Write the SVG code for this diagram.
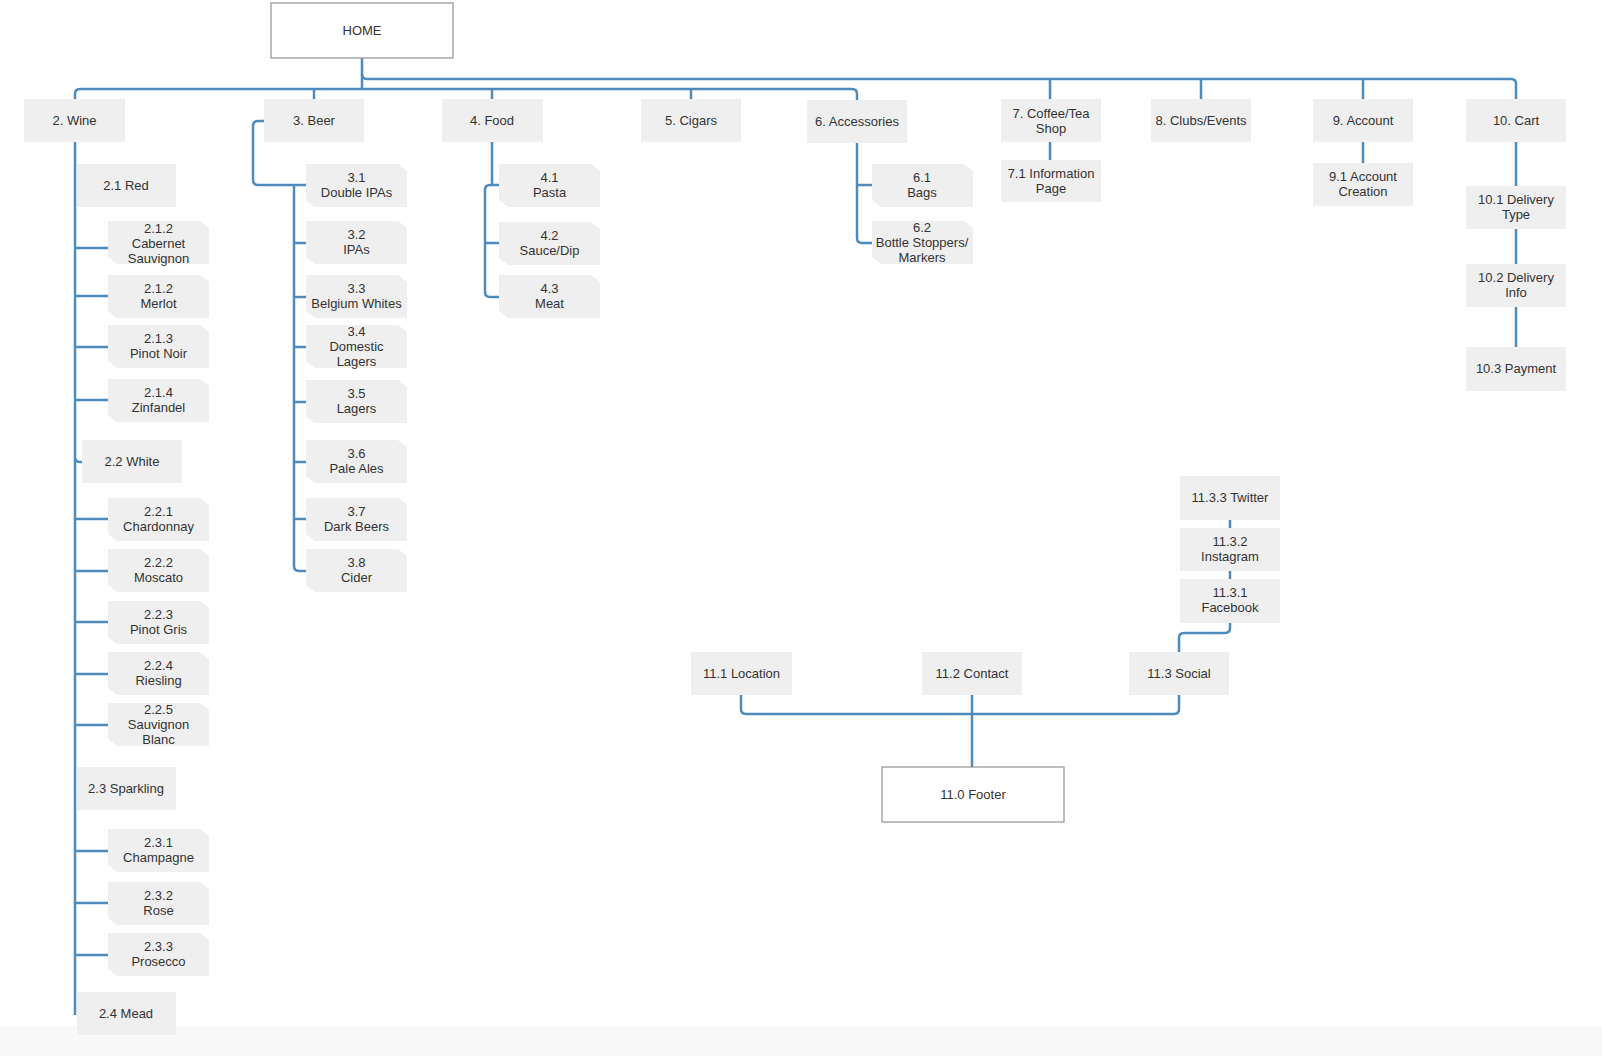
<svg xmlns="http://www.w3.org/2000/svg" xmlns:xlink="http://www.w3.org/1999/xlink" width="1602" height="1056" viewBox="0 0 1602 1056">
<style>
.box{fill:#efefef}
.frame{fill:#fff;stroke:#9a9a9a;stroke-width:1.3}
.lbl{font-family:"Liberation Sans",Arial,sans-serif;font-size:13px;fill:#333;text-anchor:middle}
.conn{fill:none;stroke:#4d8bbd;stroke-width:2.5;stroke-linejoin:round;stroke-linecap:butt}
</style>
<defs>
<polygon id="card" class="box" points="0,0 92,0 101,7 101,43 9,43 0,36"/>
</defs>
<rect x="0" y="0" width="1602" height="1056" fill="#fff"/>
<rect x="0" y="1026" width="1602" height="30" fill="#f9f9f9"/>

<g id="connectors" class="conn">
<path d="M362,58 V89 M362,89 H80 Q75,89 75,94 V99 M362,89 H852 Q857,89 857,94 V100 M314,89 V99 M492,89 V99 M691,89 V99"/>
<path d="M362,74 Q362,79 367,79 H1511 Q1516,79 1516,84 V99 M1050,79 V99 M1201,79 V99 M1363,79 V99"/>
<path d="M75,142 V1015 M75,457 Q75,462 80,462 H82 M75,248 H108 M75,296 H108 M75,347 H108 M75,400 H108 M75,519 H108 M75,571 H108 M75,622 H108 M75,674 H108 M75,725 H108 M75,851 H108 M75,903 H108 M75,955 H108"/>
<path d="M264,121 H258 Q253,121 253,126 V180 Q253,185 258,185 H306 M294,185 V566 Q294,571 299,571 H306 M294,243 H306 M294,297 H306 M294,347 H306 M294,402 H306 M294,462 H306 M294,519 H306"/>
<path d="M492,142 V185 M499,185 H490 Q485,185 485,190 V292 Q485,297 490,297 H499 M485,243 H499"/>
<path d="M857,143 V238 Q857,243 862,243 H872 M857,185 H872"/>
<path d="M1050,142 V160 M1363,142 V163 M1516,142 V186 M1516,229 V264 M1516,307 V347"/>
<path d="M1230,520 V528 M1230,571 V579 M1230,623 V628 Q1230,633 1225,633 H1184 Q1179,633 1179,638 V652"/>
<path d="M741,695 V709 Q741,714 746,714 H1174 Q1179,714 1179,709 V695 M972,695 V767"/>
</g>

<g id="home"><rect class="frame" x="271" y="3" width="182" height="55"/><text class="lbl" x="362" y="35">HOME</text></g>

<g id="wine"><rect class="box" x="24" y="99" width="101" height="43"/><text class="lbl" x="74.5" y="125">2. Wine</text></g>
<g id="beer"><rect class="box" x="264" y="99" width="100" height="43"/><text class="lbl" x="314" y="125">3. Beer</text></g>
<g id="food"><rect class="box" x="442" y="99" width="101" height="43"/><text class="lbl" x="492" y="125">4. Food</text></g>
<g id="cigars"><rect class="box" x="641" y="99" width="100" height="43"/><text class="lbl" x="691" y="125">5. Cigars</text></g>
<g id="accessories"><rect class="box" x="807" y="100" width="100" height="43"/><text class="lbl" x="857" y="126">6. Accessories</text></g>
<g id="coffee"><rect class="box" x="1001" y="99" width="100" height="43"/><text class="lbl" x="1051" y="118">7. Coffee/Tea</text><text class="lbl" x="1051" y="133">Shop</text></g>
<g id="clubs"><rect class="box" x="1151" y="99" width="100" height="43"/><text class="lbl" x="1201" y="125">8. Clubs/Events</text></g>
<g id="account"><rect class="box" x="1313" y="99" width="100" height="43"/><text class="lbl" x="1363" y="125">9. Account</text></g>
<g id="cart"><rect class="box" x="1466" y="99" width="100" height="43"/><text class="lbl" x="1516" y="125">10. Cart</text></g>

<g id="n2-1"><rect class="box" x="77" y="164" width="99" height="43"/><text class="lbl" x="126" y="190">2.1 Red</text></g>
<g id="n2-1-2a"><use xlink:href="#card" x="108" y="221"/><text class="lbl" x="158.5" y="233">2.1.2</text><text class="lbl" x="158.5" y="248">Cabernet</text><text class="lbl" x="158.5" y="263">Sauvignon</text></g>
<g id="n2-1-2b"><use xlink:href="#card" x="108" y="275"/><text class="lbl" x="158.5" y="293">2.1.2</text><text class="lbl" x="158.5" y="308">Merlot</text></g>
<g id="n2-1-3"><use xlink:href="#card" x="108" y="325"/><text class="lbl" x="158.5" y="343">2.1.3</text><text class="lbl" x="158.5" y="358">Pinot Noir</text></g>
<g id="n2-1-4"><use xlink:href="#card" x="108" y="379"/><text class="lbl" x="158.5" y="397">2.1.4</text><text class="lbl" x="158.5" y="412">Zinfandel</text></g>
<g id="n2-2"><rect class="box" x="82" y="440" width="100" height="43"/><text class="lbl" x="132" y="466">2.2 White</text></g>
<g id="n2-2-1"><use xlink:href="#card" x="108" y="498"/><text class="lbl" x="158.5" y="516">2.2.1</text><text class="lbl" x="158.5" y="531">Chardonnay</text></g>
<g id="n2-2-2"><use xlink:href="#card" x="108" y="549"/><text class="lbl" x="158.5" y="567">2.2.2</text><text class="lbl" x="158.5" y="582">Moscato</text></g>
<g id="n2-2-3"><use xlink:href="#card" x="108" y="601"/><text class="lbl" x="158.5" y="619">2.2.3</text><text class="lbl" x="158.5" y="634">Pinot Gris</text></g>
<g id="n2-2-4"><use xlink:href="#card" x="108" y="652"/><text class="lbl" x="158.5" y="670">2.2.4</text><text class="lbl" x="158.5" y="685">Riesling</text></g>
<g id="n2-2-5"><use xlink:href="#card" x="108" y="703"/><text class="lbl" x="158.5" y="714">2.2.5</text><text class="lbl" x="158.5" y="729">Sauvignon</text><text class="lbl" x="158.5" y="744">Blanc</text></g>
<g id="n2-3"><rect class="box" x="77" y="767" width="99" height="43"/><text class="lbl" x="126" y="793">2.3 Sparkling</text></g>
<g id="n2-3-1"><use xlink:href="#card" x="108" y="829"/><text class="lbl" x="158.5" y="847">2.3.1</text><text class="lbl" x="158.5" y="862">Champagne</text></g>
<g id="n2-3-2"><use xlink:href="#card" x="108" y="882"/><text class="lbl" x="158.5" y="900">2.3.2</text><text class="lbl" x="158.5" y="915">Rose</text></g>
<g id="n2-3-3"><use xlink:href="#card" x="108" y="933"/><text class="lbl" x="158.5" y="951">2.3.3</text><text class="lbl" x="158.5" y="966">Prosecco</text></g>
<g id="n2-4"><rect class="box" x="77" y="992" width="99" height="43"/><text class="lbl" x="126" y="1018">2.4 Mead</text></g>

<g id="n3-1"><use xlink:href="#card" x="306" y="164"/><text class="lbl" x="356.5" y="182">3.1</text><text class="lbl" x="356.5" y="197">Double IPAs</text></g>
<g id="n3-2"><use xlink:href="#card" x="306" y="221"/><text class="lbl" x="356.5" y="239">3.2</text><text class="lbl" x="356.5" y="254">IPAs</text></g>
<g id="n3-3"><use xlink:href="#card" x="306" y="275"/><text class="lbl" x="356.5" y="293">3.3</text><text class="lbl" x="356.5" y="308">Belgium Whites</text></g>
<g id="n3-4"><use xlink:href="#card" x="306" y="325"/><text class="lbl" x="356.5" y="336">3.4</text><text class="lbl" x="356.5" y="351">Domestic</text><text class="lbl" x="356.5" y="366">Lagers</text></g>
<g id="n3-5"><use xlink:href="#card" x="306" y="380"/><text class="lbl" x="356.5" y="398">3.5</text><text class="lbl" x="356.5" y="413">Lagers</text></g>
<g id="n3-6"><use xlink:href="#card" x="306" y="440"/><text class="lbl" x="356.5" y="458">3.6</text><text class="lbl" x="356.5" y="473">Pale Ales</text></g>
<g id="n3-7"><use xlink:href="#card" x="306" y="498"/><text class="lbl" x="356.5" y="516">3.7</text><text class="lbl" x="356.5" y="531">Dark Beers</text></g>
<g id="n3-8"><use xlink:href="#card" x="306" y="549"/><text class="lbl" x="356.5" y="567">3.8</text><text class="lbl" x="356.5" y="582">Cider</text></g>

<g id="n4-1"><use xlink:href="#card" x="499" y="164"/><text class="lbl" x="549.5" y="182">4.1</text><text class="lbl" x="549.5" y="197">Pasta</text></g>
<g id="n4-2"><use xlink:href="#card" x="499" y="222"/><text class="lbl" x="549.5" y="240">4.2</text><text class="lbl" x="549.5" y="255">Sauce/Dip</text></g>
<g id="n4-3"><use xlink:href="#card" x="499" y="275"/><text class="lbl" x="549.5" y="293">4.3</text><text class="lbl" x="549.5" y="308">Meat</text></g>

<g id="n6-1"><use xlink:href="#card" x="872" y="164"/><text class="lbl" x="922" y="182">6.1</text><text class="lbl" x="922" y="197">Bags</text></g>
<g id="n6-2"><use xlink:href="#card" x="872" y="221"/><text class="lbl" x="922" y="232">6.2</text><text class="lbl" x="922" y="247">Bottle Stoppers/</text><text class="lbl" x="922" y="262">Markers</text></g>

<g id="n7-1"><rect class="box" x="1001" y="160" width="100" height="42"/><text class="lbl" x="1051" y="178">7.1 Information</text><text class="lbl" x="1051" y="193">Page</text></g>
<g id="n9-1"><rect class="box" x="1313" y="163" width="100" height="43"/><text class="lbl" x="1363" y="181">9.1 Account</text><text class="lbl" x="1363" y="196">Creation</text></g>
<g id="n10-1"><rect class="box" x="1466" y="186" width="100" height="43"/><text class="lbl" x="1516" y="204">10.1 Delivery</text><text class="lbl" x="1516" y="219">Type</text></g>
<g id="n10-2"><rect class="box" x="1466" y="264" width="100" height="43"/><text class="lbl" x="1516" y="282">10.2 Delivery</text><text class="lbl" x="1516" y="297">Info</text></g>
<g id="n10-3"><rect class="box" x="1466" y="347" width="100" height="44"/><text class="lbl" x="1516" y="373">10.3 Payment</text></g>

<g id="n11-3-3"><rect class="box" x="1180" y="476" width="100" height="44"/><text class="lbl" x="1230" y="502">11.3.3 Twitter</text></g>
<g id="n11-3-2"><rect class="box" x="1180" y="528" width="100" height="43"/><text class="lbl" x="1230" y="546">11.3.2</text><text class="lbl" x="1230" y="561">Instagram</text></g>
<g id="n11-3-1"><rect class="box" x="1180" y="579" width="100" height="44"/><text class="lbl" x="1230" y="597">11.3.1</text><text class="lbl" x="1230" y="612">Facebook</text></g>
<g id="n11-1"><rect class="box" x="691" y="652" width="101" height="43"/><text class="lbl" x="741.5" y="678">11.1 Location</text></g>
<g id="n11-2"><rect class="box" x="922" y="652" width="100" height="43"/><text class="lbl" x="972" y="678">11.2 Contact</text></g>
<g id="n11-3"><rect class="box" x="1129" y="652" width="100" height="43"/><text class="lbl" x="1179" y="678">11.3 Social</text></g>
<g id="n11-0"><rect class="frame" x="882" y="767" width="182" height="55"/><text class="lbl" x="973" y="799">11.0 Footer</text></g>
</svg>
